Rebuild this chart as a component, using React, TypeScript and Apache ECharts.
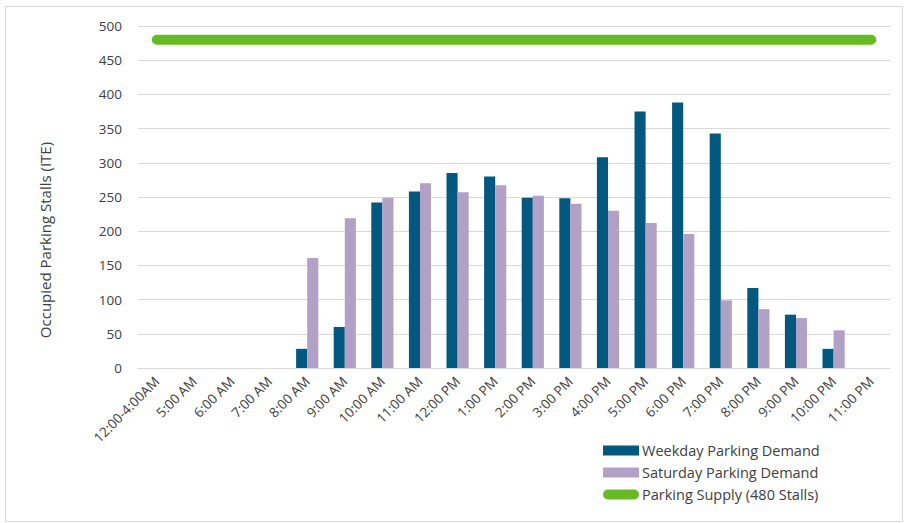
import React, { useEffect, useRef } from "react";
import * as echarts from "echarts";

const categories = [
  "12:00-4:00AM", "5:00 AM", "6:00 AM", "7:00 AM", "8:00 AM", "9:00 AM", "10:00 AM", "11:00 AM",
  "12:00 PM", "1:00 PM", "2:00 PM", "3:00 PM", "4:00 PM", "5:00 PM", "6:00 PM", "7:00 PM",
  "8:00 PM", "9:00 PM", "10:00 PM", "11:00 PM",
];
const weekday = [0, 0, 0, 0, 28, 60, 242, 258, 285, 280, 249, 248, 308, 375, 388, 343, 117, 78, 28, 0];
const saturday = [0, 0, 0, 0, 161, 219, 249, 270, 257, 267, 252, 240, 230, 212, 196, 99, 86, 73, 55, 0];
const supply = categories.map(() => 480);

const FONT = "'Open Sans', sans-serif";
const TXT = "#404040";

export default function App() {
  const ref = useRef<HTMLDivElement>(null);
  useEffect(() => {
    const chart = echarts.init(ref.current!, null, { renderer: "svg" });
    chart.setOption({
      animation: false,
      textStyle: { fontFamily: FONT },
      graphic: [
        {
          type: "rect",
          shape: { x: 5.5, y: 6.5, width: 897, height: 515 },
          style: { fill: "none", stroke: "#d9d9d9", lineWidth: 1 },
          silent: true,
        },
      ],
      grid: { left: 138, right: 16, top: 26, bottom: 155 },
      legend: {
        orient: "vertical",
        left: 598,
        top: 438,
        itemWidth: 36,
        itemHeight: 10,
        itemGap: 7,
        textStyle: { fontSize: 14.5, color: TXT, fontFamily: FONT, padding: [0, 0, 0, -2] },
        data: [
          { name: "Weekday Parking Demand", icon: "rect" },
          { name: "Saturday Parking Demand", icon: "rect" },
          {
            name: "Parking Supply (480 Stalls)",
            icon: "path://M5,0 L31,0 A5,5 0 0 1 31,10 L5,10 A5,5 0 0 1 5,0 Z",
          },
        ],
      },
      xAxis: {
        type: "category",
        data: categories,
        axisTick: { show: false },
        axisLine: { show: true, lineStyle: { color: "#d9d9d9", width: 1 } },
        axisLabel: { rotate: 45, fontSize: 13.5, color: TXT, fontFamily: FONT, margin: 11, interval: 0 },
      },
      yAxis: {
        type: "value",
        min: 0,
        max: 500,
        interval: 50,
        name: "Occupied Parking Stalls (ITE)",
        nameLocation: "middle",
        nameGap: 86,
        nameTextStyle: { fontSize: 15, color: TXT, fontFamily: FONT, padding: [0, 86, 0, 0] },
        axisLine: { show: false },
        axisTick: { show: false },
        axisLabel: { fontSize: 13.5, color: TXT, fontFamily: FONT, margin: 16 },
        splitLine: { lineStyle: { color: "#d9d9d9", width: 1 } },
      },
      series: [
        {
          name: "Weekday Parking Demand",
          type: "bar",
          data: weekday,
          barGap: "0%",
          barCategoryGap: "41%",
          itemStyle: { color: "#02587f" },
        },
        {
          name: "Saturday Parking Demand",
          type: "bar",
          data: saturday,
          itemStyle: { color: "#b2a1c7" },
        },
        {
          name: "Parking Supply (480 Stalls)",
          type: "line",
          data: supply,
          symbol: "none",
          lineStyle: { color: "#66bb22", width: 10, cap: "round" },
          itemStyle: { color: "#66bb22" },
        },
      ],
    });
    return () => chart.dispose();
  }, []);
  return (
    <div
      ref={ref}
      style={{ width: 906, height: 523, position: "absolute", left: 0, top: 0 }}
    />
  );
}
